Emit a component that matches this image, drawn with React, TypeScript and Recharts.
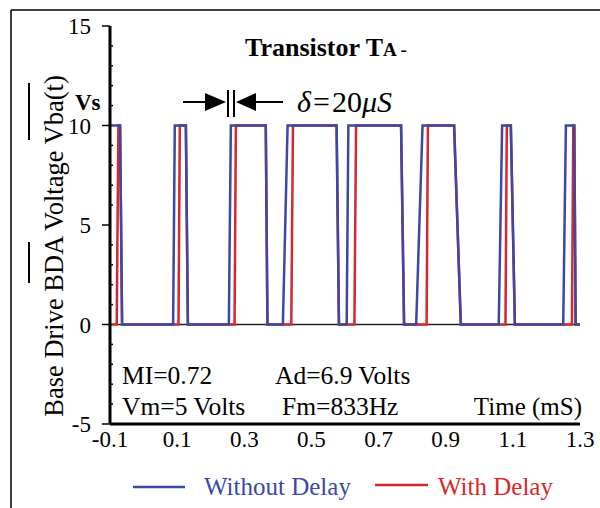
import React from "react";
import { LineChart, Line, XAxis, YAxis, ReferenceLine } from "recharts";

// times in mS, voltages in V
const blueTimes = [
  -0.1, -0.07, -0.064, 0.088, 0.093, 0.126, 0.132, 0.254, 0.26, 0.364, 0.369, 0.415, 0.429, 0.575, 0.582,
  0.605, 0.61, 0.767, 0.776, 0.812, 0.831, 0.925, 0.945, 1.058, 1.068, 1.094, 1.106, 1.25, 1.258, 1.283,
  1.287, 1.3,
];
const blueVolts = [
  10, 10, 0, 0, 10, 10, 0, 0, 10, 10, 0, 0, 10, 10, 0,
  0, 10, 10, 0, 0, 10, 10, 0, 0, 10, 10, 0, 0, 10, 10,
  0, 0,
];

const redTimes = [
  -0.1, -0.08, -0.075, -0.07, -0.064, 0.104, 0.108, 0.126, 0.132, 0.271, 0.275, 0.364, 0.369, 0.44, 0.445,
  0.575, 0.582, 0.628, 0.633, 0.767, 0.776, 0.843, 0.847, 0.925, 0.945, 1.078, 1.082, 1.094, 1.106, 1.276,
  1.28, 1.283, 1.287, 1.3,
];
const redVolts = [
  0, 0, 10, 10, 0, 0, 10, 10, 0, 0, 10, 10, 0, 0, 10,
  10, 0, 0, 10, 10, 0, 0, 10, 10, 0, 0, 10, 10, 0, 0,
  10, 10, 0, 0,
];

const xTicks = [-0.1, 0.1, 0.3, 0.5, 0.7, 0.9, 1.1, 1.3];
const yTicks = [-5, -4, -3, -2, -1, 0, 1, 2, 3, 4, 5, 6, 7, 8, 9, 10, 11, 12, 13, 14, 15];
const yMajor = [-5, 0, 5, 10, 15];

const blueData = blueTimes.map((t, i) => ({ t, v: blueVolts[i] }));
const redData = redTimes.map((t, i) => ({ t, v: redVolts[i] }));

const BLUE = "#3a48a6";
const RED = "#d8262c";
const FONT = "'Liberation Serif', 'Times New Roman', serif";

const YTick = (props: any) => {
  const { x, y, payload } = props;
  const major = yMajor.includes(payload.value);
  if (!major) {
    return <line x1={x} x2={x + 3} y1={y} y2={y} stroke="#000" strokeWidth={1.5} />;
  }
  return (
    <g>
      <line x1={x - 8} x2={x} y1={y} y2={y} stroke="#000" strokeWidth={1.5} />
      <text x={x - 19} y={y} dy="0.36em" textAnchor="end" fontSize={23} fontFamily={FONT} fill="#000">
        {payload.value}
      </text>
    </g>
  );
};

export default function App() {
  return (
    <div style={{ position: "absolute", left: 0, top: 0, width: 600, height: 508, background: "#fff", fontFamily: FONT }}>
      <LineChart width={600} height={508} margin={{ top: 26, right: 20, left: 50, bottom: 54 }}>
        <XAxis
          dataKey="t"
          type="number"
          domain={[-0.1, 1.3]}
          ticks={xTicks}
          allowDataOverflow
          height={30}
          tickSize={0}
          tickMargin={7}
          tickLine={false}
          axisLine={{ stroke: "#000", strokeWidth: 3 }}
          tickFormatter={(v: number) => v.toFixed(1)}
          tick={{ fontSize: 23, fill: "#000", fontFamily: FONT }}
        />
        <XAxis
          xAxisId="top"
          orientation="top"
          type="number"
          domain={[-0.1, 1.3]}
          height={0}
          tick={false}
          tickLine={false}
          axisLine={{ stroke: "#000", strokeWidth: 2.5 }}
        />
        <YAxis
          type="number"
          domain={[-5, 15]}
          ticks={yTicks}
          interval={0}
          width={60}
          tickSize={0}
          tickMargin={0}
          tickLine={false}
          axisLine={{ stroke: "#000", strokeWidth: 3 }}
          tick={<YTick />}
        />
        <YAxis
          yAxisId="right"
          orientation="right"
          type="number"
          domain={[-5, 15]}
          width={0}
          tick={false}
          tickLine={false}
          axisLine={{ stroke: "#000", strokeWidth: 3 }}
        />
        <ReferenceLine y={0} stroke="#222" strokeWidth={1.5} />
        <Line data={redData} dataKey="v" type="linear" stroke={RED} strokeWidth={2.5} dot={false} isAnimationActive={false} />
        <Line data={blueData} dataKey="v" type="linear" stroke={BLUE} strokeWidth={2.5} dot={false} isAnimationActive={false} />
      </LineChart>

      <svg width={600} height={508} style={{ position: "absolute", left: 0, top: 0, pointerEvents: "none" }} fontFamily={FONT}>
        {/* outer figure frame */}
        <line x1={11} x2={600} y1={10} y2={10} stroke="#000" strokeWidth={1.5} />
        <line x1={11} x2={11} y1={10} y2={508} stroke="#000" strokeWidth={1.5} />

        {/* y axis title + overbars */}
        <text transform="translate(63,246) rotate(-90)" textAnchor="middle" fontSize={26.5} fill="#000">
          Base Drive BDA Voltage Vba(t)
        </text>
        <line x1={29} x2={29} y1={83} y2={140} stroke="#000" strokeWidth={2} />
        <line x1={29} x2={29} y1={242} y2={283} stroke="#000" strokeWidth={2} />
        <text x={75} y={110} fontSize={23} fontWeight="bold" fill="#000">Vs</text>

        {/* title */}
        <text x={245} y={56} fontSize={26} fontWeight="bold" fill="#000">
          Transistor T<tspan fontSize={19}>A -</tspan>
        </text>

        {/* delay marker */}
        <line x1={183} x2={206} y1={102} y2={102} stroke="#000" strokeWidth={2} />
        <polygon points="205,93 226,102 205,111" fill="#000" />
        <line x1={228} x2={228} y1={90} y2={117} stroke="#000" strokeWidth={2} />
        <line x1={234} x2={234} y1={90} y2={117} stroke="#000" strokeWidth={2} />
        <polygon points="236,102 256,93 256,111" fill="#000" />
        <line x1={255} x2={283} y1={102} y2={102} stroke="#000" strokeWidth={2} />
        <text x={297} y={112} fontSize={30} fill="#000">
          <tspan fontStyle="italic">δ</tspan>
          <tspan dx={2}>=</tspan>
          <tspan dx={2}>20</tspan>
          <tspan fontStyle="italic">μS</tspan>
        </text>

        {/* operating point notes */}
        <text x={122} y={384} fontSize={25.5} fill="#000">MI=0.72</text>
        <text x={275} y={384} fontSize={25.5} fill="#000">Ad=6.9 Volts</text>
        <text x={122} y={415} fontSize={25.5} fill="#000">Vm=5 Volts</text>
        <text x={282} y={415} fontSize={25.5} fill="#000">Fm=833Hz</text>
        <text x={582} y={415} fontSize={25} textAnchor="end" fill="#000">Time (mS)</text>

        {/* legend */}
        <line x1={133} x2={185} y1={487} y2={487} stroke={BLUE} strokeWidth={2.5} />
        <text x={204} y={495} fontSize={25} fill={BLUE}>Without Delay</text>
        <line x1={375} x2={428} y1={485} y2={485} stroke={RED} strokeWidth={2.5} />
        <text x={438} y={495} fontSize={25} fill={RED}>With Delay</text>
      </svg>
    </div>
  );
}
